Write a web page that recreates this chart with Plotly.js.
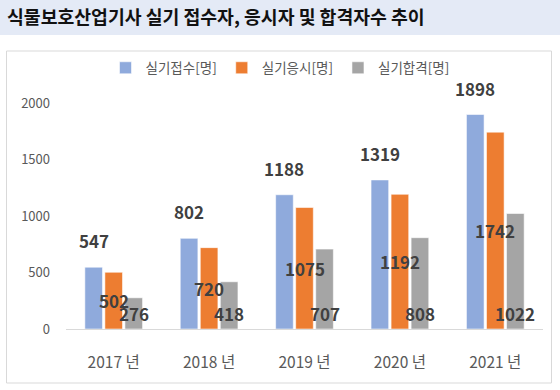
<!DOCTYPE html>
<html>
<head>
<meta charset="utf-8">
<script src="https://cdn.plot.ly/plotly-3.0.1.min.js"></script>
<style>
html,body{margin:0;padding:0;background:#fff;}
#chart{width:560px;height:390px;}
</style>
</head>
<body>
<div id="chart"></div>
<script>
const categories = ["2017 년", "2018 년", "2019 년", "2020 년", "2021 년"];
const seriesNames = ["실기접수[명]", "실기응시[명]", "실기합격[명]"];
const applied = [547, 802, 1188, 1319, 1898];
const tested = [502, 720, 1075, 1192, 1742];
const passed = [276, 418, 707, 808, 1022];
const yTicks = [0, 500, 1000, 1500, 2000];
const colors = ["#8FAADC", "#ED7D31", "#A5A5A5"];

const FONT = '"Noto Sans CJK KR", "Noto Sans", sans-serif';
const bargap = 0.37;
const slot = (1 - bargap) / 3;

const seriesList = [applied, tested, passed];
const traces = seriesList.map((vals, k) => ({
  type: 'bar',
  name: seriesNames[k],
  x: categories,
  y: vals,
  marker: {color: colors[k], line: {color: 'rgba(255,255,255,0.55)', width: 1}},
  hoverinfo: 'none'
}));

const labelFont = {family: FONT, size: 17, color: '#404040', weight: 'bold'};
const annotations = [];
categories.forEach((c, i) => {
  annotations.push({x: i - slot, y: applied[i], xref: 'x', yref: 'y', text: '<b>' + applied[i] + '</b>',
    showarrow: false, yanchor: 'bottom', yshift: 12, font: labelFont});
  annotations.push({x: i, y: tested[i] / 2, xref: 'x', yref: 'y', text: '<b>' + tested[i] + '</b>',
    showarrow: false, yanchor: 'middle', font: labelFont});
  annotations.push({x: i + slot, y: 0, xref: 'x', yref: 'y', text: '<b>' + passed[i] + '</b>',
    showarrow: false, yanchor: 'middle', yshift: 16, font: labelFont});
});

const L = 66, R = 17, T = 103, B = 61, W = 560 - L - R, H = 390 - T - B;
const px = p => (p - L) / W;
const py = p => (390 - B - p) / H;

const layout = {
  width: 560, height: 390,
  margin: {l: L, r: R, t: T, b: B, pad: 0},
  paper_bgcolor: 'rgba(0,0,0,0)',
  plot_bgcolor: 'rgba(0,0,0,0)',
  font: {family: FONT, color: '#595959'},
  title: {
    text: '<b>식물보호산업기사 실기 접수자, 응시자 및 합격자수 추이</b>',
    font: {family: FONT, size: 18.3, color: '#111111'},
    xref: 'container', yref: 'container', x: 7 / 560, xanchor: 'left', y: 1 - 17.5 / 390, yanchor: 'middle'
  },
  barmode: 'group',
  bargap: bargap,
  bargroupgap: 0.12,
  showlegend: true,
  legend: {
    orientation: 'h', x: (280 - L) / W, xanchor: 'center', y: py(68), yanchor: 'middle',
    font: {family: FONT, size: 13.5, color: '#595959'}, bgcolor: 'rgba(0,0,0,0)', itemwidth: 30, traceorder: 'normal'
  },
  xaxis: {
    type: 'category', showgrid: false, zeroline: false,
    showline: true, linecolor: '#D9D9D9', linewidth: 1,
    ticks: '', ticklabelstandoff: 19,
    tickfont: {family: FONT, size: 15.5, color: '#595959'}
  },
  yaxis: {
    range: [0, 2000], tickvals: yTicks, ticktext: yTicks.map(String),
    showgrid: false, zeroline: false, showline: false,
    ticks: '', ticklabelstandoff: 15,
    tickfont: {family: FONT, size: 13, color: '#595959'}
  },
  annotations: annotations,
  shapes: [
    {type: 'rect', xref: 'paper', yref: 'paper', x0: px(0), x1: px(560), y0: py(35), y1: py(0),
      fillcolor: '#E4EAF6', line: {width: 0}, layer: 'below'},
    {type: 'rect', xref: 'paper', yref: 'paper', x0: px(6.5), x1: px(551.5), y0: py(383), y1: py(51),
      fillcolor: 'rgba(0,0,0,0)', line: {color: '#D9D9D9', width: 1}, layer: 'below'}
  ]
};

Plotly.newPlot('chart', traces, layout, {displayModeBar: false, staticPlot: true});
</script>
</body>
</html>
